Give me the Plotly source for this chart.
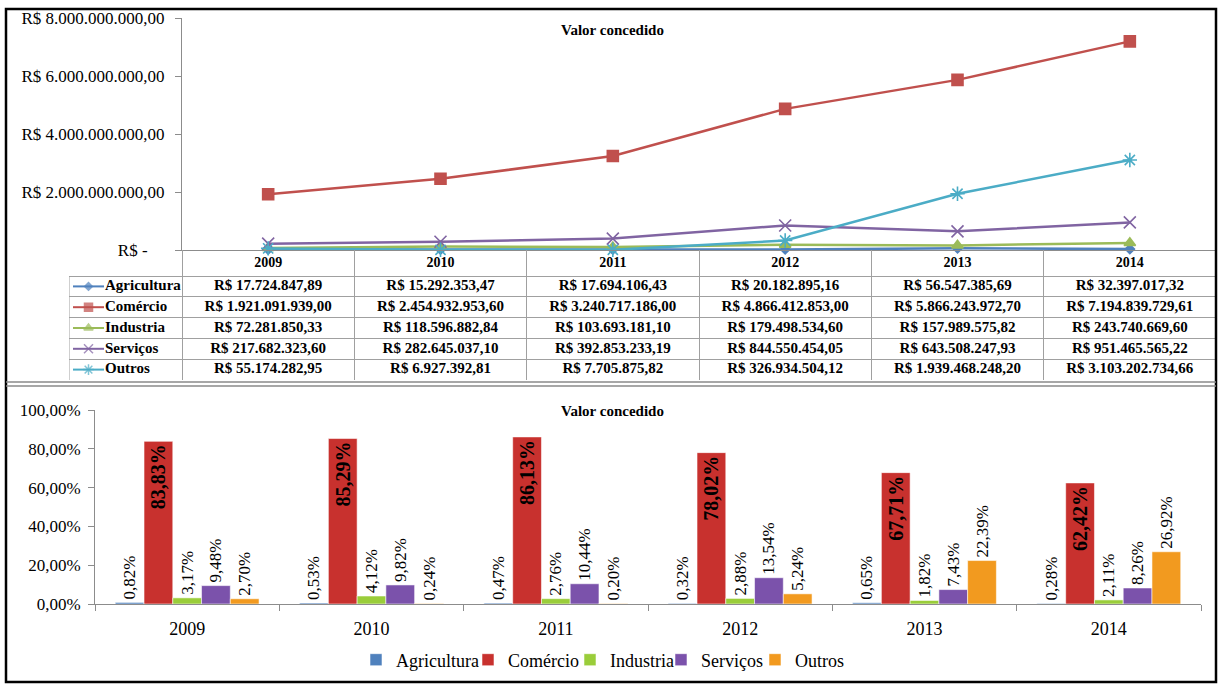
import plotly.graph_objects as go

# ---- data -------------------------------------------------------------
anos = ["2009", "2010", "2011", "2012", "2013", "2014"]
setores = ["Agricultura", "Comércio", "Industria", "Serviços", "Outros"]

agricultura = [17724847.89, 15292353.47, 17694106.43, 20182895.16, 56547385.69, 32397017.32]
comercio = [1921091939.00, 2454932953.60, 3240717186.00, 4866412853.00, 5866243972.70, 7194839729.61]
industria = [72281850.33, 118596882.84, 103693181.10, 179498534.60, 157989575.82, 243740669.60]
servicos = [217682323.60, 282645037.10, 392853233.19, 844550454.05, 643508247.93, 951465565.22]
outros = [55174282.95, 6927392.81, 7705875.82, 326934504.12, 1939468248.20, 3103202734.66]

pct_agricultura = [0.82, 0.53, 0.47, 0.32, 0.65, 0.28]
pct_comercio = [83.83, 85.29, 86.13, 78.02, 67.71, 62.42]
pct_industria = [3.17, 4.12, 2.76, 2.88, 1.82, 2.11]
pct_servicos = [9.48, 9.82, 10.44, 13.54, 7.43, 8.26]
pct_outros = [2.70, 0.24, 0.20, 5.24, 22.39, 26.92]

valor_ticks = [0, 2e9, 4e9, 6e9, 8e9]
pct_ticks = [0, 20, 40, 60, 80, 100]
titulo = "Valor concedido"

# ---- helpers ----------------------------------------------------------
W, H = 1219, 684
SERIF = "Liberation Serif"


def px_x(p):
    return p / W


def px_y(p):
    return 1 - p / H


def brl(v):
    if v == 0:
        return "R$ -\u00a0\u00a0\u00a0\u00a0"
    s = f"{v:,.2f}".replace(",", "#").replace(".", ",").replace("#", ".")
    return "R$ " + s


def pct(v):
    return f"{v:.2f}".replace(".", ",") + "%"


valores = [agricultura, comercio, industria, servicos, outros]
percentuais = [pct_agricultura, pct_comercio, pct_industria, pct_servicos, pct_outros]

line_colors = ["#4F81BD", "#C0504D", "#9BBB59", "#8064A2", "#4BACC6"]
bar_colors = ["#4F81BD", "#C8312E", "#9ACD3A", "#7B52AB", "#F29A1F"]
symbols = ["diamond", "square", "triangle-up", "x-thin-open", "asterisk-open"]
sizes = [7, 11, 10, 12, 12]
key_sizes = [6, 8, 8, 9, 9]

# legend entries are laid out one by one along the bottom (text start, px)
legend_text_px = [398, 510, 612, 703, 797]
legend_ids = ["legend", "legend2", "legend3", "legend4", "legend5"]

# table geometry (in column units of the category axis)
col_px = (1216 - 182) / 6
leg_col = (182 - 69) / col_px
name_x = -leg_col + 36 / col_px
key_x0, key_x1 = -leg_col + 4 / col_px, name_x - 1 / col_px

fig = go.Figure()

# ---- top: line chart ---------------------------------------------------
for nome, vals, cor, sym, sz in zip(setores, valores, line_colors, symbols, sizes):
    fig.add_trace(go.Scatter(
        x=anos, y=vals, name=nome, mode="lines+markers",
        line=dict(color=cor, width=2.5),
        marker=dict(symbol=sym, size=sz, color=cor, line=dict(color=cor, width=1.6)),
        xaxis="x", yaxis="y", showlegend=False, cliponaxis=False,
    ))

# ---- data table under the line chart ----------------------------------
tab_font = dict(family=SERIF, size=15, color="black")
fig.add_trace(go.Scatter(
    x=[i + 0.5 for i in range(len(anos))], y=[-0.625] * len(anos),
    text=[f"<b>{a}</b>" for a in anos], mode="text",
    textfont=dict(family=SERIF, size=14, color="black"),
    xaxis="x4", yaxis="y4", showlegend=False, hoverinfo="skip",
))
for r, (nome, vals, cor, sym, sz) in enumerate(zip(setores, valores, line_colors, symbols, key_sizes)):
    fig.add_trace(go.Scatter(
        x=[i + 0.5 for i in range(len(anos))], y=[r + 0.5] * len(anos),
        text=[f"<b>{brl(v)}</b>" for v in vals], mode="text", textfont=tab_font,
        xaxis="x4", yaxis="y4", showlegend=False, hoverinfo="skip",
    ))
    fig.add_trace(go.Scatter(
        x=[name_x], y=[r + 0.5], text=[f"<b>{nome}</b>"], mode="text",
        textposition="middle right", textfont=tab_font,
        xaxis="x4", yaxis="y4", showlegend=False, hoverinfo="skip", cliponaxis=False,
    ))
    fig.add_trace(go.Scatter(
        x=[key_x0, (key_x0 + key_x1) / 2, key_x1], y=[r + 0.5] * 3, mode="lines+markers",
        line=dict(color=cor, width=2),
        marker=dict(symbol=sym, size=[0, sz, 0], color=cor, line=dict(color=cor, width=1.5)),
        xaxis="x4", yaxis="y4", showlegend=False, hoverinfo="skip",
    ))

# ---- bottom: percentage bar chart -------------------------------------
for nome, vals, cor, leg in zip(setores, percentuais, bar_colors, legend_ids):
    destaque = nome == "Comércio"
    fig.add_trace(go.Bar(
        x=anos, y=vals, name=nome, legend=leg,
        marker=dict(color=cor, line=dict(color="rgba(255,255,255,0.55)", width=1)),
        text=[f"<b>{pct(v)}</b>" if destaque else pct(v) for v in vals],
        textposition="inside" if destaque else "outside",
        insidetextanchor="end",
        textangle=-90,
        constraintext="none",
        cliponaxis=False,
        textfont=dict(family=SERIF, size=20 if destaque else 17, color="black"),
        xaxis="x2", yaxis="y2",
    ))

axis_line = "#8C8C8C"
grid_line = "#A0A0A0"
legends = {
    leg: dict(
        orientation="h", x=px_x(tx - 42), xanchor="left", y=px_y(660), yanchor="middle",
        font=dict(family=SERIF, size=18), bgcolor="rgba(0,0,0,0)",
    )
    for leg, tx in zip(legend_ids, legend_text_px)
}

fig.update_layout(
    width=W, height=H,
    margin=dict(l=0, r=0, t=0, b=0, autoexpand=False),
    paper_bgcolor="white", plot_bgcolor="rgba(0,0,0,0)",
    font=dict(family=SERIF, size=16, color="black"),
    barmode="group", bargap=0.22, bargroupgap=0,
    xaxis=dict(
        domain=[px_x(182), px_x(1216)], type="category", range=[-0.5, 5.5],
        showticklabels=False, showline=True, linecolor=axis_line, linewidth=1,
        ticks="", showgrid=False, zeroline=False, fixedrange=True,
    ),
    yaxis=dict(
        domain=[px_y(250), px_y(18)], range=[0, 8e9],
        tickvals=valor_ticks, ticktext=[brl(v) for v in valor_ticks],
        showline=True, linecolor=axis_line, linewidth=1,
        ticks="outside", ticklen=6, tickcolor=axis_line, ticklabelstandoff=7,
        showgrid=False, zeroline=False, tickfont=dict(size=17),
    ),
    xaxis4=dict(
        domain=[px_x(69), px_x(1216)], range=[-leg_col, 6], anchor="y4",
        tickvals=list(range(0, 7)), showticklabels=False, ticks="",
        showgrid=True, gridcolor=grid_line, gridwidth=1, zeroline=False,
        showline=False, fixedrange=True,
    ),
    yaxis4=dict(
        domain=[px_y(380), px_y(250)], range=[5, -1.25], anchor="x4",
        tickvals=list(range(0, 6)), showticklabels=False, ticks="",
        showgrid=True, gridcolor=grid_line, gridwidth=1, zeroline=False,
        showline=False, fixedrange=True,
    ),
    xaxis2=dict(
        domain=[px_x(95), px_x(1201)], type="category", anchor="y2",
        showline=True, linecolor=axis_line, linewidth=1,
        ticks="outside", tickson="boundaries", ticklen=6, tickcolor=axis_line,
        ticklabelstandoff=8, tickfont=dict(size=18), showgrid=False,
    ),
    yaxis2=dict(
        domain=[px_y(604), px_y(410)], range=[0, 100], anchor="x2",
        tickvals=pct_ticks, ticktext=[pct(v) for v in pct_ticks],
        showline=True, linecolor=axis_line, linewidth=1,
        ticks="outside", ticklen=6, tickcolor=axis_line, ticklabelstandoff=4,
        showgrid=False, zeroline=False, tickfont=dict(size=17),
    ),
    annotations=[
        dict(text=f"<b>{titulo}</b>", x=px_x(612), y=px_y(30), xref="paper", yref="paper",
             xanchor="center", yanchor="middle", showarrow=False,
             font=dict(family=SERIF, size=15)),
        dict(text=f"<b>{titulo}</b>", x=px_x(612), y=px_y(411), xref="paper", yref="paper",
             xanchor="center", yanchor="middle", showarrow=False,
             font=dict(family=SERIF, size=15)),
    ],
    shapes=[
        dict(type="line", xref="x4", yref="y4", x0=-leg_col, x1=-leg_col, y0=0, y1=5,
             line=dict(color=grid_line, width=1)),
        dict(type="rect", xref="paper", yref="paper", x0=px_x(6), x1=px_x(1216),
             y0=px_y(682), y1=px_y(9), line=dict(color="black", width=2.5)),
        dict(type="line", xref="paper", yref="paper", x0=px_x(6), x1=px_x(1216),
             y0=px_y(382), y1=px_y(382), line=dict(color="#8A8A8A", width=1.5)),
        dict(type="line", xref="paper", yref="paper", x0=px_x(6), x1=px_x(1216),
             y0=px_y(386), y1=px_y(386), line=dict(color="#8A8A8A", width=1.5)),
    ],
    **legends,
)

fig.write_html("out.html", post_script="document.body.style.margin = '0';")
